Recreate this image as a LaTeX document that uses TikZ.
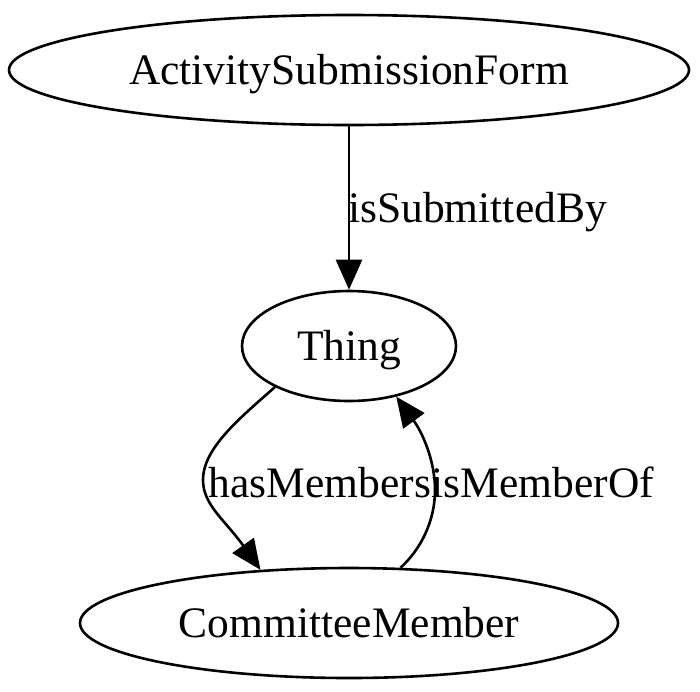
\documentclass[tikz,border=0pt]{standalone}
\usepackage{fontspec}
\setmainfont{Liberation Serif}
\usetikzlibrary{arrows.meta, shapes.geometric}

\begin{document}
\begin{tikzpicture}[x=1pt, y=-1pt, >={Triangle[length=30pt, width=26pt]}]

    % --- Styles ---
    \tikzset{
        classNode/.style={ellipse, draw=black, line width=2.6pt, inner sep=0pt, font=\fontsize{43.5}{50}\selectfont, text height=31pt, text depth=3pt},
        relEdge/.style={->, line width=2.6pt, black},
        relLabel/.style={inner sep=0pt, font=\fontsize{43.5}{50}\selectfont}
    }

    \useasboundingbox (0,0) rectangle (700,691);

    % 1. Class nodes
    \node[classNode, minimum width=680pt, minimum height=110pt] (asf) at (349,70) {ActivitySubmissionForm};
    \node[classNode, minimum width=214pt, minimum height=110pt] (thing) at (349,346) {Thing};
    \node[classNode, minimum width=538pt, minimum height=110pt] (cm) at (349,623) {CommitteeMember};

    % 2. Relations
    \draw[relEdge] (asf.south) -- (thing.north);
    \draw[relEdge] (thing.209) .. controls (240,418) and (203,448) .. (203,480)
        .. controls (203,505) and (225,520) .. (cm.149);
    \draw[relEdge] (cm.47) .. controls (420,550) and (435,522) .. (435,490)
        .. controls (435,460) and (422,432) .. (thing.313);

    % 3. Relation labels
    \node[relLabel, anchor=base west] (subLabel) at (348,222) {isSubmittedBy};
    \node[relLabel, anchor=base] (hasLabel) at (320,497) {hasMembers};
    \node[relLabel, anchor=base] (ofLabel) at (543,497) {isMemberOf};

\end{tikzpicture}
\end{document}
